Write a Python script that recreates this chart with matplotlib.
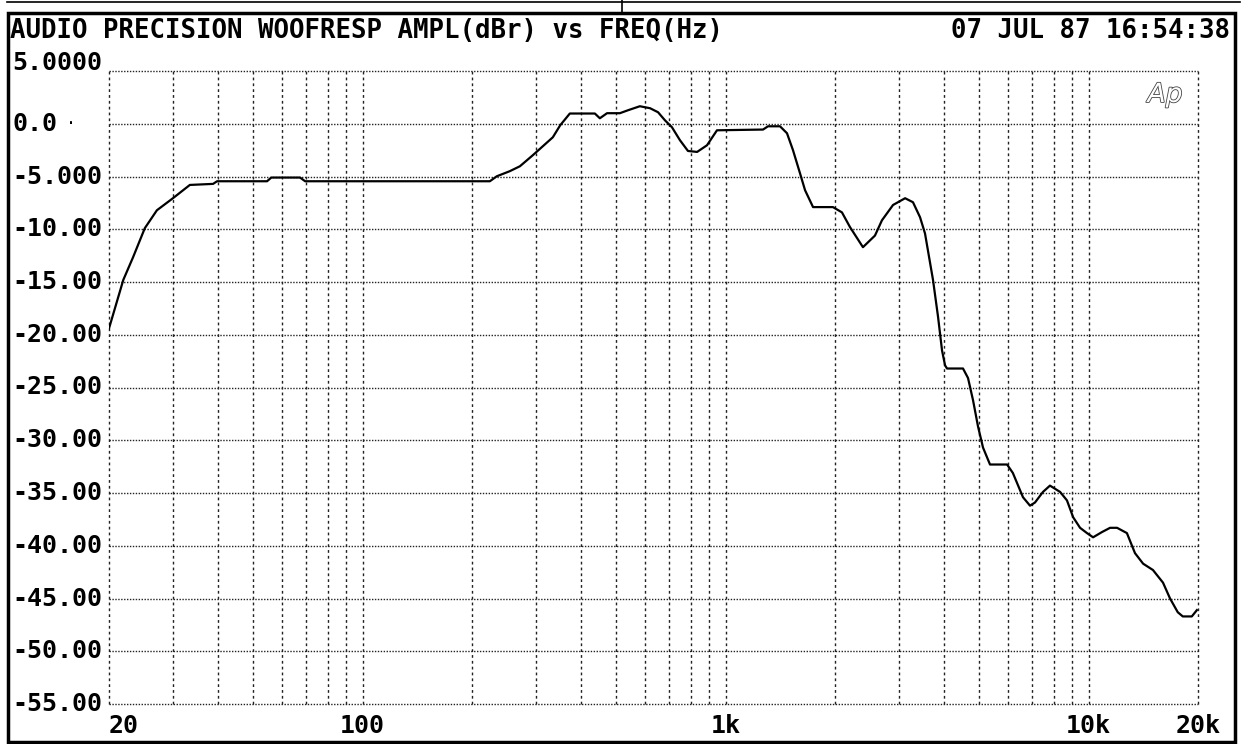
import matplotlib
matplotlib.use("Agg")
import matplotlib.pyplot as plt
import matplotlib.patheffects as pe
from matplotlib.patches import Rectangle
from matplotlib.lines import Line2D

# sweep: frequency (Hz) and level (dBr)
freq = [20, 21.9, 23.3, 25.1, 27.1, 30.0, 33.4, 38.7, 39.7, 54.5, 56, 67.2, 69.4,
        224, 234, 254, 271, 294, 334, 350, 372, 436, 450, 471, 511, 538, 580, 619,
        651, 680, 711, 748, 787, 834, 888, 946, 1267, 1308, 1411, 1475, 1532, 1602,
        1654, 1740, 1974, 2090, 2200, 2388, 2577, 2694, 2890, 3120, 3280, 3430,
        3540, 3724, 3845, 3944, 4020, 4070, 4505, 4650, 4800, 4955, 5115, 5346,
        5957, 6180, 6590, 6890, 7112, 7480, 7820, 8340, 8710, 9060, 9465, 9890,
        10280, 10880, 11450, 11970, 12740, 13410, 14120, 15030, 16020, 16750,
        17590, 18160, 19230, 19860]
level = [-19.4, -14.8, -12.65, -9.9, -8.2, -7.06, -5.8, -5.7, -5.45, -5.45, -5.1,
         -5.1, -5.45, -5.45, -4.98, -4.5, -4.03, -2.99, -1.28, -0.14, 0.97, 0.97,
         0.52, 1.0, 1.0, 1.28, 1.66, 1.47, 1.09, 0.33, -0.33, -1.56, -2.58, -2.67,
         -2.04, -0.62, -0.55, -0.24, -0.24, -0.9, -2.5, -4.7, -6.3, -7.9, -7.9,
         -8.4, -9.8, -11.7, -10.6, -9.15, -7.7, -7.06, -7.44, -8.86, -10.4, -14.8,
         -18.3, -21.5, -22.9, -23.2, -23.2, -24.1, -26.2, -28.7, -30.7, -32.3,
         -32.3, -33.1, -35.4, -36.2, -35.9, -34.9, -34.3, -34.9, -35.7, -37.3,
         -38.3, -38.8, -39.2, -38.7, -38.3, -38.3, -38.8, -40.7, -41.7, -42.3,
         -43.5, -45.0, -46.3, -46.7, -46.7, -46.1]

y_ticks = [5, 0, -5, -10, -15, -20, -25, -30, -35, -40, -45, -50, -55]
y_labels = ["5.0000", "0.0", "-5.000", "-10.00", "-15.00", "-20.00", "-25.00",
            "-30.00", "-35.00", "-40.00", "-45.00", "-50.00", "-55.00"]
x_grid = [20, 30, 40, 50, 60, 70, 80, 90, 100, 200, 300, 400, 500, 600, 700, 800,
          900, 1000, 2000, 3000, 4000, 5000, 6000, 7000, 8000, 9000, 10000, 20000]
x_ticks = [20, 100, 1000, 10000, 20000]
x_labels = ["20", "100", "1k", "10k", "20k"]

title = "AUDIO PRECISION WOOFRESP AMPL(dBr) vs FREQ(Hz)"
stamp = "07 JUL 87 16:54:38"

W, H = 1245, 744
fig = plt.figure(figsize=(W / 100, H / 100), dpi=100)
fig.patch.set_facecolor("white")
mono = "DejaVu Sans Mono"


def fx(px):
    return px / W


def fy(py):
    return 1 - py / H


ax = fig.add_axes([fx(109), fy(704), fx(1198) - fx(109), fy(71) - fy(704)])
ax.set_xscale("log")
ax.set_xlim(20, 20000)
ax.set_ylim(-55, 5)
for s in ax.spines.values():
    s.set_visible(False)
ax.set_xticks([])
ax.set_yticks([])
ax.minorticks_off()

for v in y_ticks:
    ax.axhline(v, color="#222222", lw=1.0, ls=(0, (1, 1.1)), zorder=1, clip_on=False)
for f in x_grid:
    ax.axvline(f, color="#222222", lw=1.0, ls=(0, (2, 2.2)), zorder=1, clip_on=False)

ax.plot(freq, level, color="black", lw=1.6, zorder=3)

# level labels on the left
for v, lab in zip(y_ticks, y_labels):
    off = 8 if v == 5 else 0
    ax.annotate(lab, xy=(0, v), xycoords=("figure fraction", "data"),
                xytext=(12, off), textcoords="offset pixels",
                ha="left", va="center", family=mono, weight="bold", fontsize=18)
ax.annotate("·", xy=(0, 0), xycoords=("figure fraction", "data"),
            xytext=(66, 0), textcoords="offset pixels",
            ha="left", va="center", family=mono, fontsize=12)

# frequency labels underneath
for f, lab in zip(x_ticks, x_labels):
    ha = "left" if f == 20 else "center"
    ax.annotate(lab, xy=(f, 0), xycoords=("data", "figure fraction"),
                xytext=(0, 6), textcoords="offset pixels",
                ha=ha, va="bottom", family=mono, weight="bold", fontsize=18)

fig.text(fx(10), fy(31), title, ha="left", va="center", family=mono,
         weight="bold", fontsize=18.5)
fig.text(fx(1230), fy(31), stamp, ha="right", va="center", family=mono,
         weight="bold", fontsize=18.5)

logo = fig.text(fx(1165), fy(95), "Ap", ha="center", va="center",
                family="DejaVu Sans", style="italic", fontsize=19, color="white")
logo.set_path_effects([pe.withStroke(linewidth=1.2, foreground="#444444")])

# page frame
fig.patches.append(Rectangle((fx(8), fy(742)), fx(1235) - fx(8), fy(13) - fy(742),
                             transform=fig.transFigure, fill=False,
                             edgecolor="black", lw=2.5))
fig.lines.append(Line2D([fx(7), fx(1240)], [fy(1.5), fy(1.5)],
                        transform=fig.transFigure, color="black", lw=1.2))
fig.lines.append(Line2D([fx(622), fx(622)], [fy(0), fy(12)],
                        transform=fig.transFigure, color="black", lw=1.2))

fig.savefig("out.png", dpi=100, facecolor="white")
